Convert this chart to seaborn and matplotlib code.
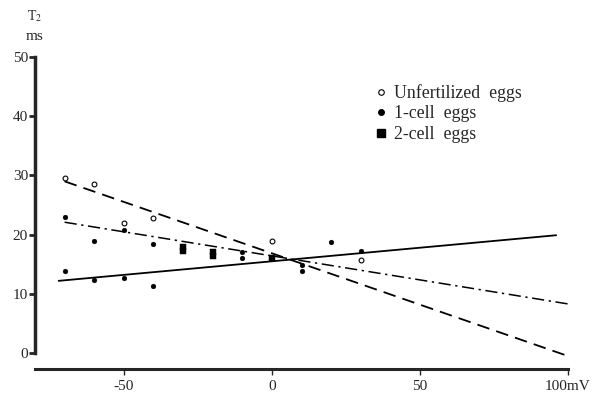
import matplotlib
matplotlib.use("Agg")
import matplotlib.pyplot as plt
from matplotlib.lines import Line2D
import seaborn as sns

# values (membrane potential in mV, T2 in ms)
unfert_x = [-70, -60, -50, -40, 0, 30]
unfert_y = [29.5, 28.5, 22.0, 22.8, 18.9, 15.7]

one_cell_x = [-70, -70, -60, -60, -50, -50, -40, -40, -10, -10, 10, 10, 20, 30]
one_cell_y = [23.0, 13.8, 18.9, 12.4, 20.8, 12.7, 18.5, 11.4, 16.0, 17.0, 14.9, 13.8, 18.7, 17.2]

two_cell_x = [-30, -30, -20, -20, 0]
two_cell_y = [17.9, 17.2, 17.1, 16.4, 16.0]

# fitted lines (end points)
fit_unfert_x = [-70, 100]
fit_unfert_y = [29.0, -0.5]
fit_one_x = [-70, 100]
fit_one_y = [22.1, 8.3]
fit_two_x = [-72, 96]
fit_two_y = [12.2, 19.9]

x_ticks = [-50, 0, 50, 100]
x_tick_labels = ["-50", "0", "50", "100mV"]
y_ticks = [0, 10, 20, 30, 40, 50]

sns.set_style("ticks")
plt.rcParams["font.family"] = ["Liberation Serif", "DejaVu Serif"]
plt.rcParams["mathtext.fontset"] = "stix"

fig = plt.figure(figsize=(6.06, 3.96), dpi=100)
ax = fig.add_axes([35 / 606, 1 - 359 / 396, (568 - 35) / 606, (359 - 57) / 396])

sns.lineplot(x=fit_unfert_x, y=fit_unfert_y, ax=ax, color="black", lw=1.3)
ax.lines[-1].set_dashes((7, 4))
sns.lineplot(x=fit_one_x, y=fit_one_y, ax=ax, color="black", lw=1.1)
ax.lines[-1].set_dashes((8, 3, 1.5, 3))
sns.lineplot(x=fit_two_x, y=fit_two_y, ax=ax, color="black", lw=1.3)

sns.scatterplot(x=unfert_x, y=unfert_y, ax=ax, marker="o", s=12,
                facecolor="white", edgecolor="black", linewidth=0.8, zorder=3)
sns.scatterplot(x=one_cell_x, y=one_cell_y, ax=ax, marker="o", s=12,
                color="black", edgecolor="black", zorder=3)
sns.scatterplot(x=two_cell_x, y=two_cell_y, ax=ax, marker="s", s=16,
                color="black", edgecolor="black", zorder=3)

ax.set_xlim(-80, 100)
ax.set_ylim(-1, 50)
ax.spines["top"].set_visible(False)
ax.spines["right"].set_visible(False)
ax.spines["left"].set_bounds(0, 50)
ax.spines["left"].set_linewidth(2.5)
ax.spines["bottom"].set_position(("outward", 7))
ax.spines["bottom"].set_linewidth(2.2)
ax.set_xticks(x_ticks)
ax.set_xticklabels(x_tick_labels)
ax.set_yticks(y_ticks)
ax.tick_params(axis="y", length=4, width=2, labelsize=11, pad=1)
ax.tick_params(axis="x", length=4, width=1, labelsize=11, pad=4)

fig.text(35 / 606, 1 - 16 / 396, "T$_2$", fontsize=10, ha="center", va="center")
fig.text(35 / 606, 1 - 36 / 396, "ms", fontsize=11, ha="center", va="center")

handles = [
    Line2D([], [], ls="none", marker="o", ms=4, mfc="white", mec="black", mew=0.8),
    Line2D([], [], ls="none", marker="o", ms=4, color="black"),
    Line2D([], [], ls="none", marker="s", ms=6, color="black"),
]
labels = ["Unfertilized  eggs", "1-cell  eggs", "2-cell  eggs"]
fig.legend(handles, labels, loc="upper left", bbox_to_anchor=(367 / 606, 1 - 75 / 396),
           frameon=False, fontsize=12.8, handlelength=0.6, handletextpad=0.4,
           labelspacing=0.2, borderpad=0)

fig.savefig("out.png", dpi=100)
